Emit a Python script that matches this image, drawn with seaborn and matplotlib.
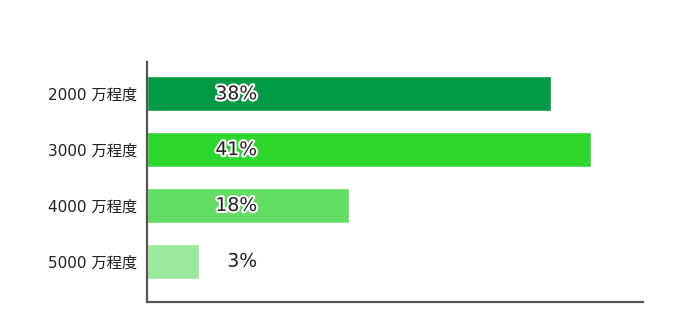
import matplotlib
matplotlib.use("Agg")
import matplotlib.pyplot as plt
import matplotlib.patheffects as pe
import seaborn as sns
import pandas as pd

categories = ["2000 万程度", "3000 万程度", "4000 万程度", "5000 万程度"]
bar_values = [37.5, 41.2, 18.7, 4.8]
value_labels = ["38%", "41%", "18%", "3%"]
colors = ["#009A44", "#2DD62D", "#63DC63", "#9CEB9C"]

sns.set_theme(style="white")
plt.rcParams["font.family"] = ["DejaVu Sans", "Noto Sans CJK JP"]

df = pd.DataFrame({"cat": categories, "val": bar_values})

fig = plt.figure(figsize=(6.79, 3.30), dpi=100)
ax = fig.add_axes([147/679, 28/330, 496/679, 240/330])
sns.barplot(data=df, x="val", y="cat", hue="cat", palette=colors, legend=False,
            orient="h", width=0.627, ax=ax, saturation=1)

ax.set_xlim(0, 46)
ax.set_ylim(3.73, -0.57)
ax.set_xlabel("")
ax.set_ylabel("")
ax.set_xticks([])
ax.tick_params(axis="y", length=0, pad=7, labelsize=11, labelcolor="#222222")
for s in ["top", "right"]:
    ax.spines[s].set_visible(False)
for s in ["left", "bottom"]:
    ax.spines[s].set_color("#555555")
    ax.spines[s].set_linewidth(1.6)

for i, lab in enumerate(value_labels):
    ax.text(10.2, i, lab, ha="right", va="center", fontsize=13.5, color="#222222",
            path_effects=[pe.withStroke(linewidth=3, foreground="white")])

fig.savefig("out.png", dpi=100)
